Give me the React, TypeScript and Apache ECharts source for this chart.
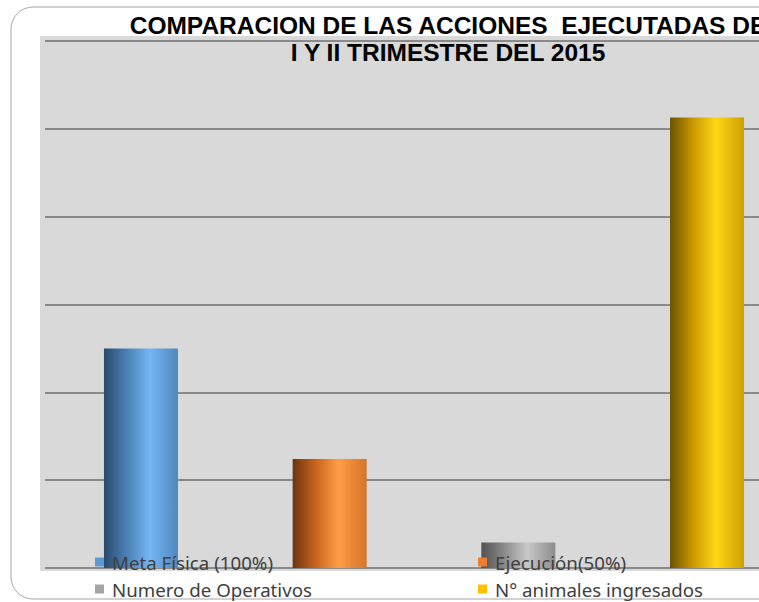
import React, { useEffect, useRef } from "react";
import * as echarts from "echarts";

const titleLines = ["COMPARACION DE LAS ACCIONES  EJECUTADAS DE", "I Y II TRIMESTRE DEL 2015"];
const categories = ["I y II Trimestre 2015"];
const seriesNames = ["Meta Física (100%)", "Ejecución(50%)", "Numero de Operativos", "N° animales ingresados"];
const seriesValues = [25, 12.4, 2.9, 51.3];
const legendColors = ["#5b9bd5", "#ed7d31", "#a5a5a5", "#ffc000"];
const gradientStops: string[][] = [
  ["#2a4a6b", "#4a7fb4", "#74b6f2", "#4f87bf"],
  ["#6a3410", "#c6621d", "#ff9d46", "#d6742a"],
  ["#525252", "#888888", "#c8c8c8", "#8c8c8c"],
  ["#6a5300", "#c89600", "#ffd716", "#cf9f00"],
];

export default function App() {
  const ref = useRef<HTMLDivElement>(null);
  useEffect(() => {
    document.body.style.margin = "0";
    const chart = echarts.init(ref.current!, null, { renderer: "svg" });
    const legendPos = [
      { left: 95, top: 551 },
      { left: 478, top: 551 },
      { left: 95, top: 578 },
      { left: 478, top: 578 },
    ];
    chart.setOption({
      animation: false,
      backgroundColor: "#ffffff",
      graphic: [
        {
          type: "rect",
          z: -20,
          shape: { x: 11, y: 7, width: 820, height: 592, r: 22 },
          style: { fill: "#ffffff", stroke: "#a6a6a6", lineWidth: 1 },
        },
        {
          type: "rect",
          z: -10,
          shape: { x: 40, y: 36, width: 800, height: 535 },
          style: { fill: "#d9d9d9" },
        },
        {
          type: "text",
          z: 10,
          x: 448,
          y: 12,
          style: {
            text: titleLines.join("\n"),
            align: "center",
            verticalAlign: "top",
            font: "bold 24.5px 'Liberation Sans', Arial, sans-serif",
            lineHeight: 27,
            fill: "#000000",
          },
        },
      ],
      legend: seriesNames.map((n, i) => ({
        data: [{ name: n, itemStyle: { color: legendColors[i] } }],
        left: legendPos[i].left,
        top: legendPos[i].top,
        padding: 0,
        itemWidth: 9,
        itemHeight: 9,
        icon: "rect",
        z: 5,
        textStyle: {
          fontFamily: "'Noto Sans', sans-serif",
          fontSize: 18.7,
          color: "#404040",
          lineHeight: 22,
          padding: [0, 0, 0, 3],
        },
      })),
      grid: { left: 45, top: 41, width: 758, height: 527 },
      xAxis: {
        type: "category",
        data: categories,
        axisLine: { show: false },
        axisTick: { show: false },
        axisLabel: { show: false },
      },
      yAxis: {
        type: "value",
        min: 0,
        max: 60,
        interval: 10,
        axisLine: { show: false },
        axisTick: { show: false },
        axisLabel: { show: false },
        splitLine: { lineStyle: { color: "#8a8a8a", width: 2 } },
      },
      series: seriesNames.map((n, i) => ({
        name: n,
        type: "bar",
        data: [seriesValues[i]],
        barWidth: 74,
        barGap: "155%",
        color: legendColors[i],
        itemStyle: {
          color: new echarts.graphic.LinearGradient(0, 0, 1, 0, [
            { offset: 0, color: gradientStops[i][0] },
            { offset: 0.3, color: gradientStops[i][1] },
            { offset: 0.62, color: gradientStops[i][2] },
            { offset: 1, color: gradientStops[i][3] },
          ]),
        },
      })),
    });
    return () => chart.dispose();
  }, []);
  return (
    <div style={{ width: 759, height: 602, overflow: "hidden", position: "relative" }}>
      <div ref={ref} style={{ width: 840, height: 602 }} />
    </div>
  );
}
